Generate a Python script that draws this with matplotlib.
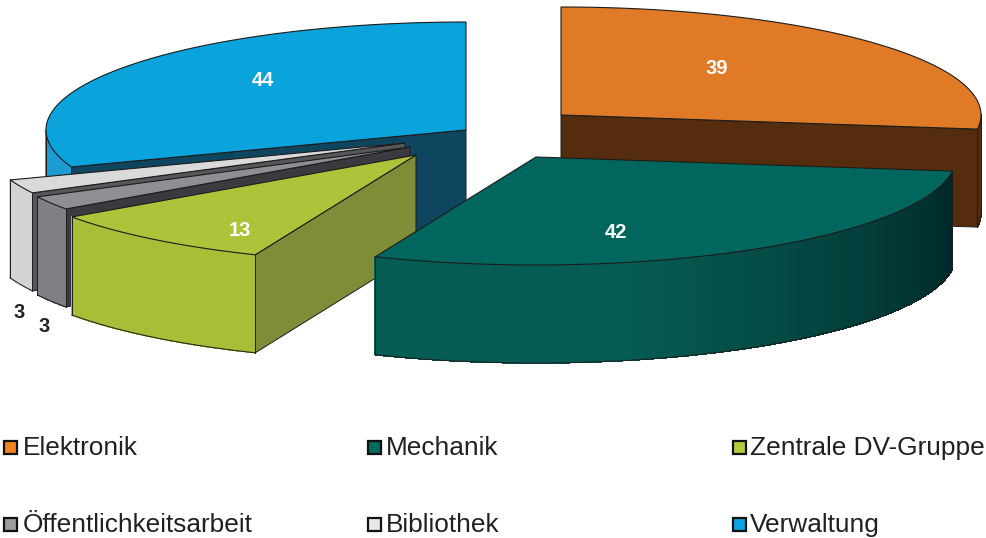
import numpy as np
import matplotlib
matplotlib.use('Agg')
import matplotlib.pyplot as plt
from matplotlib.patches import Polygon, Rectangle
from matplotlib.colors import to_rgb

plt.rcParams['font.family'] = ['Liberation Sans', 'DejaVu Sans']

# data, clockwise from twelve o'clock
names = ['Elektronik', 'Mechanik', 'Zentrale DV-Gruppe',
         'Öffentlichkeitsarbeit', 'Bibliothek', 'Verwaltung']
values = [39, 42, 13, 3, 3, 44]

# where each exploded wedge has its tip (pixels)
apex_x = [561, 536, 416, 410, 405, 466]
apex_y = [115, 157, 155, 147, 143, 130]

top_col = ['#e07a26', '#01665e', '#aec339', '#8e8f93', '#dadada', '#0ba3dc']
rim_a = ['#54290c', '#055c52', '#a9bd36', '#7f8084', '#d2d3d2', '#1b9bd1']
rim_b = ['#54290c', '#012628', '#a9bd36', '#7f8084', '#d2d3d2', '#1b9bd1']
cut_col = ['#552c0d', '#012628', '#7f8c38', '#393b3f', '#55575a', '#0f465f']
key_col = ['#f58220', '#006b5f', '#b5cb3a', '#9a9ca0', '#e8e8e6', '#0aa5e0']

# draw back to front
order = [5, 0, 4, 3, 2, 1]

RX, RY, DEPTH = 420, 108, 98
EDGE = '#1c1c1c'


def rim_xy(cx, cy, deg):
    t = np.radians(deg)
    return cx + RX * np.sin(t), cy - RY * np.cos(t)


def mix(c1, c2, f):
    a, b = np.array(to_rgb(c1)), np.array(to_rgb(c2))
    return tuple(a + (b - a) * f)


fig = plt.figure(figsize=(9.87, 5.38), dpi=100)
ax = fig.add_axes([0, 0, 1, 1])
ax.set_xlim(0, 987)
ax.set_ylim(538, 0)
ax.axis('off')

spans = np.array(values) / sum(values) * 360
starts = np.concatenate([[0], np.cumsum(spans)[:-1]])

z = 1
for i in order:
    cx, cy = apex_x[i], apex_y[i]
    a0, a1 = starts[i], starts[i] + spans[i]

    # straight cut faces
    for deg, show in ((a0, 180 < a0 < 360), (a1, 0 < a1 < 180)):
        if show:
            x, y = rim_xy(cx, cy, deg)
            ax.add_patch(Polygon([(cx, cy), (x, y), (x, y + DEPTH), (cx, cy + DEPTH)],
                                 fc=cut_col[i], ec=EDGE, lw=0.7, zorder=z))

    # outer wall, only the part turned to the viewer
    lo, hi = max(a0, 90), min(a1, 270)
    if hi > lo:
        th = np.linspace(lo, hi, int((hi - lo) / 1.5) + 2)
        for k in range(len(th) - 1):
            x0, y0 = rim_xy(cx, cy, th[k])
            x1, y1 = rim_xy(cx, cy, th[k + 1])
            f = min(1, (th[k] - lo) / (hi - lo) * 1.5)
            c = mix(rim_b[i], rim_a[i], f)
            ax.add_patch(Polygon([(x0, y0), (x1, y1), (x1, y1 + DEPTH), (x0, y0 + DEPTH)],
                                 fc=c, ec=c, lw=0.5, antialiased=False, zorder=z))
        xs, ys = rim_xy(cx, cy, th)
        ax.plot(xs, ys + DEPTH, color=EDGE, lw=0.7, zorder=z)
        for e in (lo, hi):
            ex, ey = rim_xy(cx, cy, e)
            ax.plot([ex, ex], [ey, ey + DEPTH], color=EDGE, lw=0.7, zorder=z)

    # top surface
    th = np.linspace(a0, a1, 120)
    xs, ys = rim_xy(cx, cy, th)
    pts = [(cx, cy)] + list(zip(xs, ys))
    ax.add_patch(Polygon(pts, fc=top_col[i], ec=EDGE, lw=0.8, zorder=z))
    z += 1

# value labels
label_x = [717, 616, 240, 44, 19, 263]
label_y = [69, 232, 230, 326, 312, 80]
label_col = ['white', 'white', 'white', '#222222', '#222222', 'white']
for v, x, y, c in zip(values, label_x, label_y, label_col):
    ax.text(x, y, str(v), color=c, fontsize=14.5, fontweight='bold',
            ha='center', va='center', zorder=20)

# legend
key_x = [4, 368, 733, 4, 368, 733]
key_y = [441, 441, 441, 518, 518, 518]
text_x = [23, 386, 750, 23, 386, 750]
for n, c, x, y, tx in zip(names, key_col, key_x, key_y, text_x):
    ax.add_patch(Rectangle((x, y), 13, 13, fc=c, ec='#111111', lw=1.6))
    ax.text(tx, y + 7, n, color='#231f20', fontsize=18.9, ha='left', va='center')

fig.savefig('out.png', dpi=100)
